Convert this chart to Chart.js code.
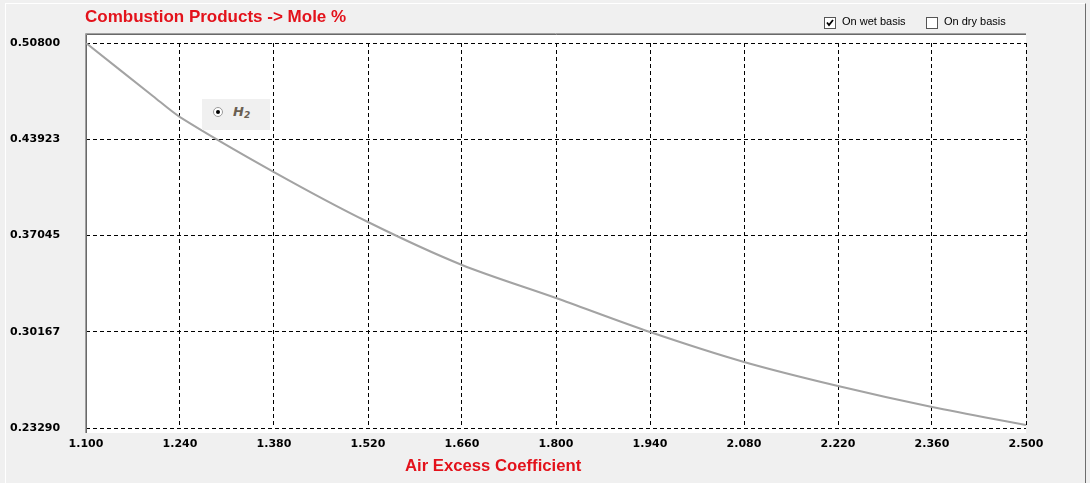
<!DOCTYPE html>
<html>
<head>
<meta charset="utf-8">
<script src="https://cdn.jsdelivr.net/npm/chart.js@4/dist/chart.umd.min.js"></script>
<style>
  html, body { margin: 0; padding: 0; background: #f0f0f0; }
  #wrap { position: relative; width: 1090px; height: 483px; overflow: hidden; }
  #frame { position: absolute; left: 5px; top: 3px; width: 1079px; height: 490px;
           border-left: 1px solid #ffffff; border-top: 1px solid #ffffff; border-right: 1px solid #6d6d6d; }
  canvas { position: absolute; left: 0; top: 0; }
  .red { position: absolute; color: #e3121b; font: bold 17px "Liberation Sans", Arial, sans-serif; white-space: nowrap; }
  .chk { position: absolute; top: 15px; font: 11px "Liberation Sans", Arial, sans-serif; color: #000; white-space: nowrap; }
  .box { position: absolute; top: 2px; left: 0; width: 10px; height: 10px; border: 1px solid #555; background: #fff; }
  .chk span.t { position: absolute; left: 18px; top: 0; }
  #legend { position: absolute; left: 202px; top: 99px; width: 68px; height: 31px; background: #f0f0f0; }
  #legend .radio { position: absolute; left: 11px; top: 8px; width: 8px; height: 8px; border-radius: 50%;
                   border: 1px solid #9a9a9a; background: #fff; }
  #legend .radio::after { content: ""; position: absolute; left: 2px; top: 2px; width: 4px; height: 4px; border-radius: 50%; background: #000; }
  #legend .lab { position: absolute; left: 31px; top: 5px; font: italic bold 13px "DejaVu Sans", sans-serif; color: #6a5f52; }
  #legend .lab sub { font-size: 9px; vertical-align: -2px; }
</style>
</head>
<body>
<div id="wrap">
  <div id="frame"></div>
  <canvas id="chart" width="1090" height="483"></canvas>
  <div class="red" style="left:85px; top:7px;">Combustion Products -&gt; Mole %</div>
  <div class="red" style="left:405px; top:456px; font-size:16.7px;">Air Excess Coefficient</div>
  <div class="chk" style="left:824px;">
    <div class="box"><svg width="10" height="10"><polyline points="2,4.5 4,7 8,2" fill="none" stroke="#000" stroke-width="1.8"/></svg></div>
    <span class="t">On wet basis</span>
  </div>
  <div class="chk" style="left:926px;">
    <div class="box"></div>
    <span class="t">On dry basis</span>
  </div>
  <div id="legend"><div class="radio"></div><div class="lab">H<sub>2</sub></div></div>
</div>
<script>
// valores
const airExcess = [1.10, 1.20, 1.24, 1.38, 1.52, 1.66, 1.80, 1.94, 2.08, 2.22, 2.36, 2.50];
const h2Values = [0.5080, 0.4700, 0.4551, 0.4158, 0.3801, 0.3494, 0.3258, 0.3015, 0.2801, 0.2629, 0.2479, 0.2350];
const xTicks = [1.10, 1.24, 1.38, 1.52, 1.66, 1.80, 1.94, 2.08, 2.22, 2.36, 2.50];
const yTicks = [0.23290, 0.30167, 0.37045, 0.43923, 0.50800];

// fondo blanco del area de trazado y borde hundido
const plotBackground = {
    id: 'plotBackground',
    beforeDraw(chart) {
        const ctx = chart.ctx;
        const a = chart.chartArea;
        ctx.save();
        ctx.fillStyle = '#ffffff';
        ctx.fillRect(a.left - 1, a.top - 10, a.right - a.left + 1, a.bottom - a.top + 15);
        ctx.restore();
    },
    beforeDatasetsDraw(chart) {
        const ctx = chart.ctx;
        const a = chart.chartArea;
        ctx.save();
        ctx.lineWidth = 1;
        ctx.strokeStyle = '#a0a0a0';
        ctx.beginPath();
        ctx.moveTo(a.left - 0.5, a.bottom + 5);
        ctx.lineTo(a.left - 0.5, a.top - 9.5);
        ctx.lineTo(a.right, a.top - 9.5);
        ctx.stroke();
        ctx.strokeStyle = '#696969';
        ctx.beginPath();
        ctx.moveTo(a.left + 0.5, a.bottom + 5);
        ctx.lineTo(a.left + 0.5, a.top - 8.5);
        ctx.lineTo(a.right, a.top - 8.5);
        ctx.stroke();
        ctx.restore();
    }
};

const tickFont = { family: 'DejaVu Sans', size: 11, weight: 'bold' };

new Chart(document.getElementById('chart'), {
    type: 'line',
    data: {
        datasets: [{
            label: 'H2',
            data: airExcess.map((x, i) => ({ x: x, y: h2Values[i] })),
            borderColor: '#a3a3a3',
            borderWidth: 2,
            pointRadius: 0,
            tension: 0.3,
            fill: false
        }]
    },
    options: {
        responsive: false,
        animation: false,
        layout: { padding: { left: 10, top: 43, right: 64, bottom: 0 } },
        plugins: { legend: { display: false }, tooltip: { enabled: false } },
        scales: {
            x: {
                type: 'linear',
                min: 1.1,
                max: 2.5,
                afterBuildTicks: axis => { axis.ticks = xTicks.map(v => ({ value: v })); },
                afterFit: axis => { axis.height = 55; },
                border: { display: false, dash: [4, 3] },
                grid: { color: '#000', drawTicks: false, lineWidth: 1 },
                ticks: { color: '#000', font: tickFont, padding: 10, maxRotation: 0, autoSkip: false,
                         callback: v => Number(v).toFixed(3) }
            },
            y: {
                min: 0.2329,
                max: 0.508,
                afterBuildTicks: axis => { axis.ticks = yTicks.map(v => ({ value: v })); },
                afterFit: axis => { axis.width = 76; },
                border: { display: false, dash: [4, 3] },
                grid: { color: '#000', drawTicks: false, lineWidth: 1 },
                ticks: { color: '#000', font: tickFont, crossAlign: 'far', padding: 0, autoSkip: false,
                         callback: v => Number(v).toFixed(5) }
            }
        }
    },
    plugins: [plotBackground]
});
</script>
</body>
</html>
